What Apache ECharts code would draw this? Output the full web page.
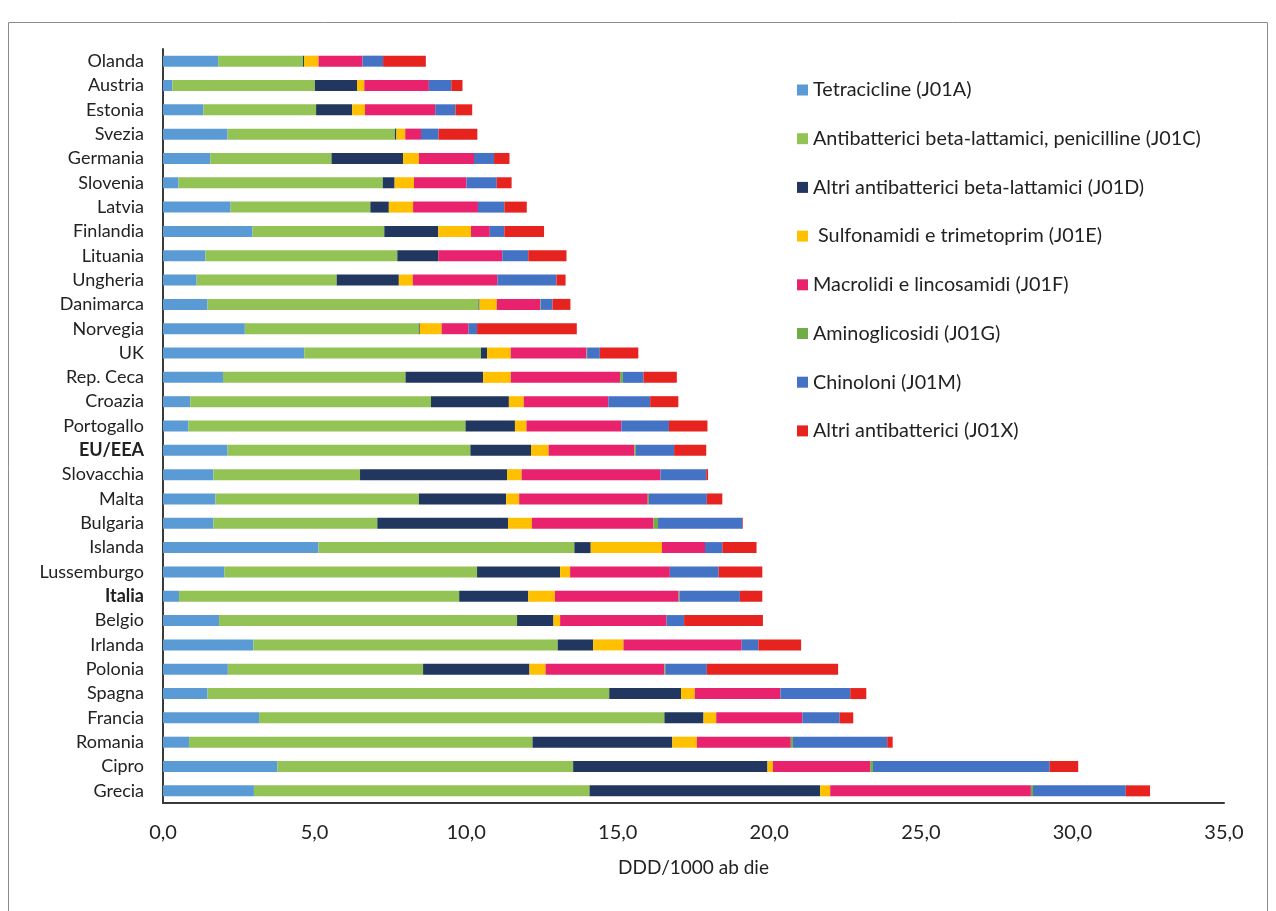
<!DOCTYPE html>
<html>
<head>
<meta charset="utf-8">
<script src="https://cdn.jsdelivr.net/npm/echarts@6/dist/echarts.min.js"></script>
<style>
html,body{margin:0;padding:0;background:#fff;}
#chart{width:1276px;height:911px;}
</style>
</head>
<body>
<div id="chart"></div>
<script>
const categories = ["Olanda","Austria","Estonia","Svezia","Germania","Slovenia","Latvia","Finlandia","Lituania","Ungheria","Danimarca","Norvegia","UK","Rep. Ceca","Croazia","Portogallo","EU/EEA","Slovacchia","Malta","Bulgaria","Islanda","Lussemburgo","Italia","Belgio","Irlanda","Polonia","Spagna","Francia","Romania","Cipro","Grecia"];
const boldCategories = ["EU/EEA","Italia"];

const seriesNames = ["Tetracicline (J01A)","Antibatterici beta-lattamici, penicilline (J01C)","Altri antibatterici beta-lattamici (J01D)"," Sulfonamidi e trimetoprim (J01E)","Macrolidi e lincosamidi (J01F)","Aminoglicosidi (J01G)","Chinoloni (J01M)","Altri antibatterici (J01X)"];

const tetracicline = [1.82,0.31,1.33,2.13,1.56,0.51,2.23,2.95,1.40,1.11,1.47,2.70,4.66,1.98,0.90,0.84,2.13,1.66,1.73,1.66,5.13,2.02,0.53,1.85,2.98,2.14,1.47,3.17,0.86,3.77,3.00];
const penicilline = [2.80,4.70,3.72,5.52,4.00,6.74,4.61,4.35,6.33,4.62,8.94,5.74,5.83,6.02,7.94,9.14,8.01,4.84,6.71,5.41,8.44,8.34,9.24,9.83,10.04,6.44,13.25,13.37,11.33,9.76,11.07];
const altriBetaLattamici = [0.04,1.39,1.19,0.05,2.36,0.39,0.61,1.78,1.35,2.05,0.03,0.03,0.20,2.56,2.57,1.63,2.00,4.85,2.88,4.31,0.54,2.74,2.28,1.20,1.17,3.51,2.37,1.29,4.61,6.41,7.61];
const sulfonamidi = [0.47,0.24,0.42,0.29,0.52,0.64,0.80,1.08,0.00,0.46,0.57,0.72,0.78,0.91,0.49,0.38,0.58,0.48,0.43,0.79,2.35,0.33,0.88,0.22,1.00,0.53,0.45,0.42,0.81,0.18,0.33];
const macrolidi = [1.45,2.13,2.32,0.52,1.82,1.73,2.14,0.62,2.11,2.79,1.43,0.89,2.50,3.61,2.79,3.13,2.83,4.58,4.24,4.01,1.42,3.29,4.08,3.51,3.90,3.92,2.83,2.84,3.10,3.21,6.62];
const aminoglicosidi = [0,0,0,0,0,0,0,0,0,0,0.02,0,0.02,0.09,0,0,0.05,0,0.04,0.15,0,0,0.03,0,0,0.03,0,0,0.07,0.09,0.07];
const chinoloni = [0.68,0.74,0.67,0.58,0.66,1.00,0.87,0.48,0.86,1.95,0.39,0.28,0.42,0.68,1.38,1.57,1.26,1.51,1.91,2.78,0.57,1.61,1.99,0.58,0.55,1.37,2.30,1.23,3.11,5.83,3.06];
const altriAntibatterici = [1.41,0.37,0.55,1.28,0.51,0.49,0.74,1.31,1.26,0.30,0.59,3.29,1.27,1.10,0.93,1.27,1.06,0.06,0.51,0.02,1.13,1.44,0.74,2.60,1.41,4.33,0.53,0.45,0.18,0.94,0.80];

const xTicks = [0,5,10,15,20,25,30,35];
const colors = ["#5B9BD5","#93C255","#22375F","#FFC000","#E8226C","#70AD47","#4472C4","#E6231F"];
const seriesData = [tetracicline,penicilline,altriBetaLattamici,sulfonamidi,macrolidi,aminoglicosidi,chinoloni,altriAntibatterici];

const chart = echarts.init(document.getElementById('chart'), null, {renderer:'canvas'});
const FONT = 'Lato';
const TXT = '#222222';
chart.setOption({
  animation:false,
  backgroundColor:'#fff',
  textStyle:{fontFamily:FONT},
  graphic:[{type:'rect',shape:{x:8.5,y:22.5,width:1259,height:900},style:{fill:'none',stroke:'#8c8c8c',lineWidth:1},silent:true}],
  grid:{left:163,right:52,top:49,bottom:108,containLabel:false},
  legend:{
    orient:'vertical',left:797,top:80,padding:0,
    itemWidth:11,itemHeight:11,itemGap:28.7,icon:'rect',
    textStyle:{fontFamily:FONT,fontSize:19.8,color:TXT,lineHeight:20},
    data:seriesNames
  },
  xAxis:{
    type:'value',min:xTicks[0],max:xTicks[xTicks.length-1],interval:5,
    name:'DDD/1000 ab die',nameLocation:'middle',nameGap:55,
    nameTextStyle:{fontFamily:FONT,fontSize:19,color:TXT},
    axisLine:{show:true,lineStyle:{color:'#3a3a3a',width:2}},
    axisTick:{show:false},
    splitLine:{show:false},
    axisLabel:{fontFamily:FONT,fontSize:20,color:TXT,margin:20,
      formatter:v=>v.toFixed(1).replace('.',',')}
  },
  yAxis:{
    type:'category',data:categories,inverse:true,
    axisLine:{show:true,lineStyle:{color:'#3a3a3a',width:2}},
    axisTick:{show:false},
    axisLabel:{interval:0,hideOverlap:false,fontFamily:FONT,fontSize:18,color:TXT,margin:19,lineHeight:20,
      formatter:v=>boldCategories.includes(v)?'{b|'+v+'}':v,
      rich:{b:{fontWeight:'bold',fontFamily:FONT,fontSize:18,color:TXT,lineHeight:20}}}
  },
  series:seriesNames.map((n,i)=>({
    name:n,type:'bar',stack:'tot',barWidth:11,
    itemStyle:{color:colors[i]},
    data:seriesData[i]
  }))
});
</script>
</body>
</html>
